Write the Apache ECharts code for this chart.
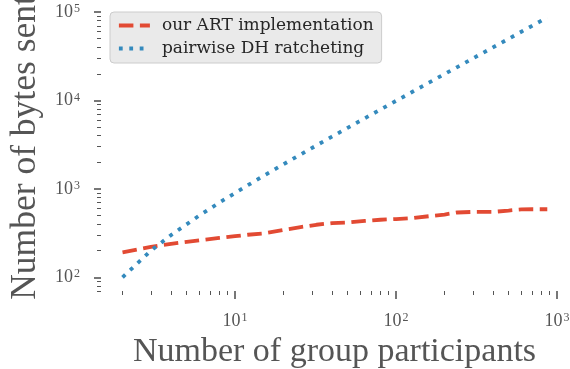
<!DOCTYPE html>
<html>
<head>
<meta charset="utf-8">
<script src="https://cdn.jsdelivr.net/npm/echarts@6/dist/echarts.min.js"></script>
<style>
  html, body { margin: 0; padding: 0; background: #ffffff; }
  #chart { width: 570px; height: 369px; }
</style>
</head>
<body>
<div id="chart"></div>
<script>
// Group sizes at which the message cost was measured
const participants = [2, 3, 4, 6, 8, 10, 12, 15, 20, 25, 32, 40, 50, 64, 80, 100, 125, 160, 200, 240, 300, 400, 500, 600, 700, 870];
// Bytes sent per update, ART tree
const artBytes = [192, 221, 239, 262, 279, 292, 303, 313, 343, 368, 393, 410, 416, 435, 448, 456, 466, 491, 513, 541, 549, 549, 569, 586, 589, 589];
// Bytes sent per update, pairwise DH ratchets
const pairwiseBytes = [100, 200, 300, 500, 700, 900, 1100, 1400, 1900, 2400, 3100, 3900, 4900, 6300, 7900, 9900, 12400, 15900, 19900, 23900, 29900, 39900, 49900, 59900, 69900, 86900];

const seriesNames = ['our ART implementation', 'pairwise DH ratcheting'];
const xTitle = 'Number of group participants';
const yTitle = 'Number of bytes sent';

// Decade ticks (labelled) and the minor ticks between them
const xMajorTicks = [10, 100, 1000];
const xMinorTicks = [2, 3, 4, 5, 6, 7, 8, 9, 20, 30, 40, 50, 60, 70, 80, 90, 200, 300, 400, 500, 600, 700, 800, 900];
const yMajorTicks = [100, 1000, 10000, 100000];
const yMinorTicks = [70, 80, 90, 200, 300, 400, 500, 600, 700, 800, 900,
  2000, 3000, 4000, 5000, 6000, 7000, 8000, 9000,
  20000, 30000, 40000, 50000, 60000, 70000, 80000, 90000];

const X_MIN = 1.47, X_MAX = 1170;
const Y_MIN = 70, Y_MAX = 123500;

const serif = '"Liberation Serif", "DejaVu Serif", serif';
const textColor = '#555555';
const tickColor = '#555555';

// "10" with the exponent raised as a superscript
function powerLabel(v) {
  return '{b|10}{s|' + Math.round(Math.log10(v)) + '}';
}
const powerRich = {
  b: { fontFamily: serif, fontSize: 18, color: textColor, lineHeight: 18 },
  s: { fontFamily: serif, fontSize: 12, color: textColor, lineHeight: 9, verticalAlign: 'top', padding: [0, 0, 0, 1] }
};

function minorAxis(extra) {
  return Object.assign({
    type: 'log', logBase: 10,
    axisLine: { show: false, onZero: false },
    splitLine: { show: false },
    minorTick: { show: false },
    minorSplitLine: { show: false },
    axisLabel: { show: false }
  }, extra);
}

const chart = echarts.init(document.getElementById('chart'), null, { renderer: 'canvas' });

chart.setOption({
  animation: false,
  backgroundColor: '#ffffff',
  grid: { left: 101, right: 2, top: 4, bottom: 78, containLabel: false, outerBoundsMode: 'none' },
  legend: {
    orient: 'vertical',
    left: 110, top: 12,
    padding: [5, 8, 6, 7],
    itemGap: 6, itemWidth: 31, itemHeight: 14,
    backgroundColor: '#eaeaea',
    borderColor: '#cccccc', borderWidth: 1, borderRadius: 4,
    itemStyle: { opacity: 0, borderWidth: 0 },
    lineStyle: { width: 3.8 },
    textStyle: { fontFamily: '"DejaVu Serif", serif', fontSize: 17, color: '#262626', lineHeight: 16, padding: [0, 0, 0, 7] },
    data: seriesNames
  },
  xAxis: [
    minorAxis({
      min: X_MIN, max: X_MAX, position: 'bottom',
      axisTick: { show: true, customValues: xMinorTicks, length: 4, lineStyle: { color: tickColor, width: 1 } }
    }),
    minorAxis({
      min: X_MIN, max: X_MAX, position: 'bottom',
      axisTick: { show: true, customValues: xMajorTicks, length: 8, lineStyle: { color: tickColor, width: 1.6 } },
      axisLabel: { show: true, customValues: xMajorTicks, formatter: powerLabel, rich: powerRich, margin: 21 },
      name: xTitle, nameLocation: 'middle', nameGap: 34,
      nameTextStyle: { fontFamily: serif, fontSize: 34, color: textColor }
    })
  ],
  yAxis: [
    minorAxis({
      min: Y_MIN, max: Y_MAX, position: 'left',
      axisTick: { show: true, customValues: yMinorTicks, length: 4, lineStyle: { color: tickColor, width: 1 } }
    }),
    minorAxis({
      min: Y_MIN, max: Y_MAX, position: 'left',
      axisTick: { show: true, customValues: yMajorTicks, length: 7, lineStyle: { color: tickColor, width: 1.6 } },
      axisLabel: { show: true, customValues: yMajorTicks, formatter: powerLabel, rich: powerRich, margin: 21 },
      name: yTitle, nameLocation: 'middle', nameGap: 56,
      nameTextStyle: { fontFamily: serif, fontSize: 35.5, color: textColor }
    })
  ],
  series: [
    {
      name: seriesNames[0], type: 'line', xAxisIndex: 0, yAxisIndex: 0,
      data: participants.map((n, i) => [n, artBytes[i]]),
      symbol: 'none', showSymbol: false, silent: true,
      itemStyle: { color: '#E24A33' },
      lineStyle: { color: '#E24A33', width: 3.8, type: [14.5, 6.5], cap: 'butt' }
    },
    {
      name: seriesNames[1], type: 'line', xAxisIndex: 0, yAxisIndex: 0,
      data: participants.map((n, i) => [n, pairwiseBytes[i]]),
      symbol: 'none', showSymbol: false, silent: true,
      itemStyle: { color: '#348ABD' },
      lineStyle: { color: '#348ABD', width: 3.8, type: [3.8, 6.6], cap: 'butt' }
    }
  ]
});
</script>
</body>
</html>
